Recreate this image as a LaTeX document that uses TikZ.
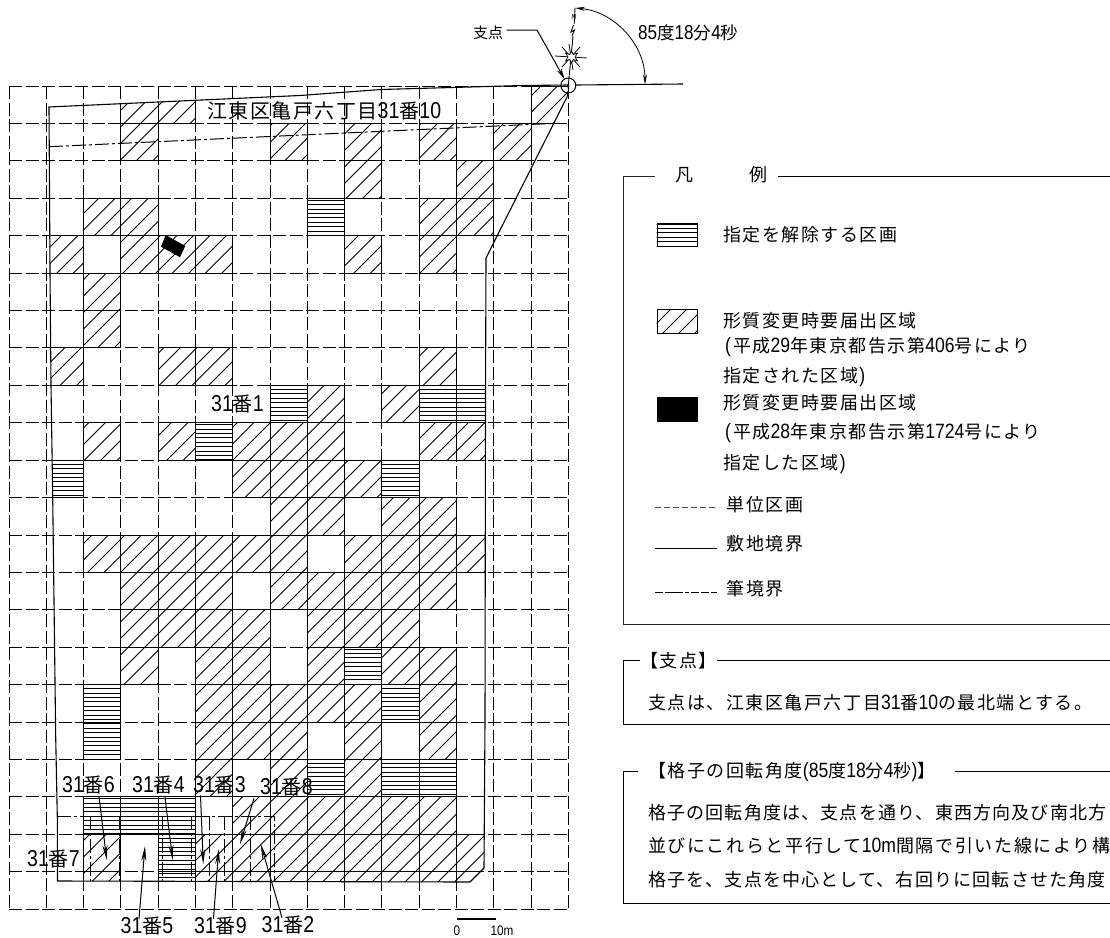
\documentclass[tikz,border=0pt]{standalone}
\usepackage{fontspec}
\usetikzlibrary{arrows.meta}
\setmainfont{Noto Sans CJK JP}
\newfontfamily\jpls[LetterSpace=8.5]{Noto Sans CJK JP}
\newfontfamily\jplt[LetterSpace=6.5]{Noto Sans CJK JP}
\newfontfamily\jplw[LetterSpace=9.2]{Noto Sans CJK JP}
\newfontfamily\jpbig[LetterSpace=7.5]{Noto Sans CJK JP}
\newfontfamily\dgf[FakeStretch=0.85,Scale=1.15]{Liberation Sans}
\newcommand{\dg}[1]{{\dgf #1}}
\newcommand{\lpr}{\hspace*{2pt}\dg{(}\hspace*{2pt}}
\newcommand{\rpr}{\hspace*{1pt}\dg{)}}
\newcommand{\hatchlist}{3/0,4/0,14/0,3/1,7/1,9/1,11/1,13/1,9/2,12/2,2/3,3/3,11/3,12/3,1/4,3/4,4/4,5/4,9/4,11/4,2/5,2/6,1/7,4/7,5/7,11/7,8/8,10/8,2/9,4/9,6/9,7/9,8/9,11/9,12/9,6/10,7/10,8/10,9/10,7/11,8/11,10/11,11/11,2/12,3/12,4/12,5/12,6/12,7/12,9/12,10/12,11/12,12/12,3/13,4/13,5/13,7/13,8/13,9/13,10/13,11/13,3/14,4/14,5/14,6/14,8/14,9/14,10/14,3/15,5/15,6/15,8/15,10/15,11/15,5/16,6/16,7/16,8/16,9/16,11/16,5/17,6/17,7/17,9/17,11/17,5/18,7/18,9/18,6/19,7/19,8/19,9/19,10/19,11/19,2/20,5/20,6/20,7/20,8/20,9/20,10/20,11/20,12/20,2/21,5/21,6/21,7/21,8/21,9/21,10/21,11/21,12/21}
\newcommand{\stripelist}{8/3,7/8,11/8,12/8,5/9,1/10,10/10,9/15,2/16,10/16,2/17,8/18,10/18,11/18,2/19,3/19,4/19,4/20,4/21}
\newcommand{\sitepath}{(49,107)--(300,95.5)--(381,89.5)--(523,85.5)--(568,85)--(568.5,90)--(567,97)--(486,258)--(485.5,400)--(485,720)--(484,868)--(470,882)--(57.5,881)--(57.3,817)--(55.7,737)--(52.7,497)--(51,385)--(50,272)--cycle}
\newcommand{\gxx}[1]{floor(9+37.29*(#1))+0.5}
\newcommand{\gyy}[1]{floor(86+37.42*(#1))+0.5}
\tikzset{
  x=1pt,y=-1pt,
  gridline/.style={line width=1pt,dash pattern=on 13pt off 3.5pt,black},
  cellborder/.style={line width=1.2pt,black},
  siteline/.style={line width=1.1pt,black},
  parcel/.style={line width=1pt,dash pattern=on 14pt off 3pt on 3pt off 3pt,black},
  leader/.style={line width=1pt,-{Stealth[length=15pt,width=5pt]}},
  plain/.style={line width=1.1pt,black},
  lab/.style={inner sep=0pt,font=\fontsize{20}{20}\selectfont},
  leg/.style={inner sep=0pt,anchor=west,font=\fontsize{18}{18}\selectfont\jpls},
  swatch/.style={line width=1.1pt,draw=black}
}
\begin{document}
\begin{tikzpicture}
\useasboundingbox (0,0) rectangle (1110,937);
\fill[white] (0,0) rectangle (1110,937);
\clip (0,0) rectangle (1110,937);
% grid
\foreach \i in {0,...,15} \draw[gridline] ({\gxx{\i}},86) -- ({\gxx{\i}},909.3);
\foreach \j in {0,...,22} \draw[gridline] (9,{\gyy{\j}}) -- (568.3,{\gyy{\j}});
% cells
\begin{scope}
  \clip \sitepath;
  \begin{scope}
    \clip \foreach \p/\q in \hatchlist {({\gxx{\p}},{\gyy{\q}}) rectangle ({\gxx{\p+1}},{\gyy{\q+1}})};
    \foreach \c in {0,16.5,...,1500} \draw[line width=0.9pt] (\c,0) -- ({\c-1000},1000);
  \end{scope}
  \begin{scope}
    \clip \foreach \p/\q in \stripelist {({\gxx{\p}},{\gyy{\q}}) rectangle ({\gxx{\p+1}},{\gyy{\q+1}})};
    \foreach \y in {86,90.4,...,900} \draw[line width=1pt] (0,{floor(\y)+0.5}) -- (600,{floor(\y)+0.5});
  \end{scope}
  \foreach \p/\q in \hatchlist \draw[cellborder] ({\gxx{\p}},{\gyy{\q}}) rectangle ({\gxx{\p+1}},{\gyy{\q+1}});
  \foreach \p/\q in \stripelist \draw[cellborder] ({\gxx{\p}},{\gyy{\q}}) rectangle ({\gxx{\p+1}},{\gyy{\q+1}});
\end{scope}
% black area
\fill[black] (165.7,235) -- (185.3,246) -- (180,257.3) -- (161,246.7) -- cycle;
% site and parcel boundaries
\draw[siteline] \sitepath;
\draw[parcel] (49,146.7) -- (555,123.3);
\draw[parcel] (57.3,816.3) -- (274,816.3) -- (274,881);
\foreach \x in {90,119,162.7,191.7,209,224,250} \draw[parcel] (\x,816.3) -- (\x,881);
% site labels
\node[lab,anchor=west] (site) at (207,111) {\jpbig 江東区亀戸六丁目\dg{31}番\dg{10}};
\node[lab] (n1) at (237.5,404) {\dg{31}番\dg{1}};
\node[lab] (n6) at (88.5,785) {\dg{31}番\dg{6}};
\node[lab] (n4) at (158.5,785) {\dg{31}番\dg{4}};
\node[lab] (n3) at (219.5,785) {\dg{31}番\dg{3}};
\node[lab] (n8) at (286.5,787) {\dg{31}番\dg{8}};
\node[lab] (n7) at (53.5,859) {\dg{31}番\dg{7}};
\node[lab] (n5) at (147,926) {\dg{31}番\dg{5}};
\node[lab] (n9) at (220.5,926) {\dg{31}番\dg{9}};
\node[lab] (n2) at (288,925) {\dg{31}番\dg{2}};
\coordinate (t6) at (106.7,860);
\coordinate (t4) at (172.7,860);
\coordinate (t3) at (203.3,864);
\coordinate (t8) at (240,844);
\coordinate (t5) at (145,846);
\coordinate (t9) at (218.7,849);
\coordinate (t2) at (260.7,844);
\draw[leader] ([xshift=10.5pt,yshift=-2pt]n6.south) -- (t6);
\draw[leader] ([xshift=6.5pt,yshift=-3pt]n4.south) -- (t4);
\draw[leader] ([xshift=-19pt,yshift=-1pt]n3.south) -- (t3);
\draw[leader] ([xshift=-32.5pt,yshift=-2pt]n8.south) -- (t8);
\draw[leader] ([xshift=-8pt,yshift=-2pt]n5.north) -- (t5);
\draw[leader] ([xshift=-7pt,yshift=-2pt]n9.north) -- (t9);
\draw[leader] ([xshift=-6pt,yshift=-2pt]n2.north) -- (t2);
% pivot
\coordinate (pv) at (568.3,85.5);
\draw[line width=1pt] (pv) circle (7.5);
\draw[plain] (575.8,85) -- (683,84);
\coordinate (nt) at (575,8);
\coordinate (ae) at (645,84.5);
\draw[line width=0.9pt] (pv) -- (571.7,50) -- (573,36) (574.2,24) -- (nt);
\draw[line width=0.9pt] (572,36) -- (574.5,30) -- (571,32) -- (573.5,25);
\node[inner sep=0pt,rotate=-5,font=\fontsize{7}{7}\selectfont] (northn) at (573.8,17) {N};
\draw[line width=0.8pt,{Stealth[length=10pt,width=4pt]}-{Stealth[length=10pt,width=4pt]}] (nt) .. controls (614.8,11.6) and (645,45.1) .. (ae);
\draw[line width=0.8pt] (555,56) -- (587,58) (562,47) -- (580,67) (580,47) -- (562,67) (569,44) -- (573,70);
\draw[line width=0.7pt,fill=white] (571.5,51) -- (573.3,54.6) -- (577.5,53) -- (575,57) -- (577.5,61) -- (573.3,59.4) -- (571.5,63) -- (569.7,59.4) -- (565.5,61) -- (568,57) -- (565.5,53) -- (569.7,54.6) -- cycle;
\node[inner sep=0pt,anchor=west,font=\fontsize{15}{15}\selectfont] (piv) at (473,33) {支点};
\draw[line width=1pt,-{Stealth[length=11pt,width=5pt]}] (506.5,30) -- (537,30) -- (564.5,79);
\node[leg,font=\fontsize{17.5}{18}\selectfont\jpls] (ang) at (638,33) {\dg{85}度\dg{18}分\dg{4}秒};
% scale
\draw[line width=2pt] (456.7,918.7) -- (495.7,918.7);
\node[inner sep=0pt,font=\fontsize{12}{12}\selectfont] (s0) at (457,931) {\dg{0}};
\node[inner sep=0pt,font=\fontsize{12}{12}\selectfont] (s10) at (502,931) {\dg{10m}};
% legend box
\draw[plain,black!85] (655,176.5) -- (623.5,176.5) -- (623.5,624.5) -- (1110,624.5);
\draw[plain] (778,176.5) -- (1110,176.5);
\node[inner sep=0pt,font=\fontsize{18}{18}\selectfont] (lgf) at (684,175) {凡};
\node[inner sep=0pt,font=\fontsize{18}{18}\selectfont] (lgr) at (758,175) {例};
\begin{scope}
  \clip (656.7,222.7) rectangle (697.3,246);
  \foreach \y in {224,228.4,...,246} \draw[line width=1pt] (650,\y) -- (700,\y);
\end{scope}
\node[swatch,minimum width=40.5pt,minimum height=23.3pt,inner sep=0pt,anchor=north west] (sw1) at (656.7,222.7) {};
\node[leg] (t1) at (723,235) {指定を解除する区画};
\begin{scope}
  \clip (656.7,309.3) rectangle (697.3,333.3);
  \foreach \c in {680,696,...,780} \draw[line width=0.9pt] (\c,300) -- ({\c-60},360);
\end{scope}
\node[swatch,minimum width=40.5pt,minimum height=24pt,inner sep=0pt,anchor=north west] (sw2) at (656.7,309.3) {};
\node[leg] (t2a) at (723,320.7) {形質変更時要届出区域};
\node[leg] (t2b) at (723,347) {\lpr 平成\dg{29}年東京都告示第\dg{406}号により};
\node[leg] (t2c) at (723,377) {指定された区域\rpr};
\node[swatch,fill=black,minimum width=40.5pt,minimum height=24pt,inner sep=0pt,anchor=north west] (sw3) at (656.7,396.7) {};
\node[leg] (t3a) at (723,402.7) {形質変更時要届出区域};
\node[leg] (t3b) at (723,433) {\lpr 平成\dg{28}年東京都告示第\dg{1724}号により};
\node[leg] (t3c) at (723,464) {指定した区域\rpr};
\coordinate (a1) at (655,507.5); \coordinate (b1) at (716.7,507.5);
\coordinate (a2) at (655,548.5); \coordinate (b2) at (716.7,548.5);
\coordinate (a3) at (655,592.5); \coordinate (b3) at (716.7,592.5);
\draw[line width=0.6pt,black!70,dash pattern=on 6pt off 3pt] (a1) -- (b1);
\draw[plain] (a2) -- (b2);
\draw[line width=0.9pt,dash pattern=on 8pt off 2pt on 18pt off 2pt on 4pt off 2pt on 8pt off 2pt] (a3) -- (b3);
\node[leg] (t4) at (726.7,505) {単位区画};
\node[leg] (t5) at (726.7,544) {敷地境界};
\node[leg] (t6x) at (726.7,589) {筆境界};
% pivot box
\draw[plain] (640,660.5) -- (623.5,660.5) -- (623.5,724.5) -- (1110,724.5);
\draw[plain] (716.7,660.5) -- (1110,660.5);
\node[leg] (pt) at (640,661) {【支点】};
\node[leg] (pb) at (648,703) {支点は、江東区亀戸六丁目\dg{31}番\dg{10}の最北端とする。};
% rotation box
\draw[plain] (638,771.5) -- (623.5,771.5) -- (623.5,903.5) -- (1110,903.5);
\draw[plain] (955,771.5) -- (1110,771.5);
\node[leg] (rt) at (648,772) {【格子の回転角度\dg{(85}度\dg{18}分\dg{4}秒\dg{)}】};
\node[leg,font=\fontsize{18}{18}\selectfont\jplt] (r1) at (648,813) {格子の回転角度は、支点を通り、東西方向及び南北方};
\node[leg,font=\fontsize{18}{18}\selectfont\jplw] (r2) at (648,846) {並びにこれらと平行して\dg{10m}間隔で引いた線により構};
\node[leg,font=\fontsize{18}{18}\selectfont\jplt] (r3) at (648,880) {格子を、支点を中心として、右回りに回転させた角度};
\end{tikzpicture}
\end{document}
